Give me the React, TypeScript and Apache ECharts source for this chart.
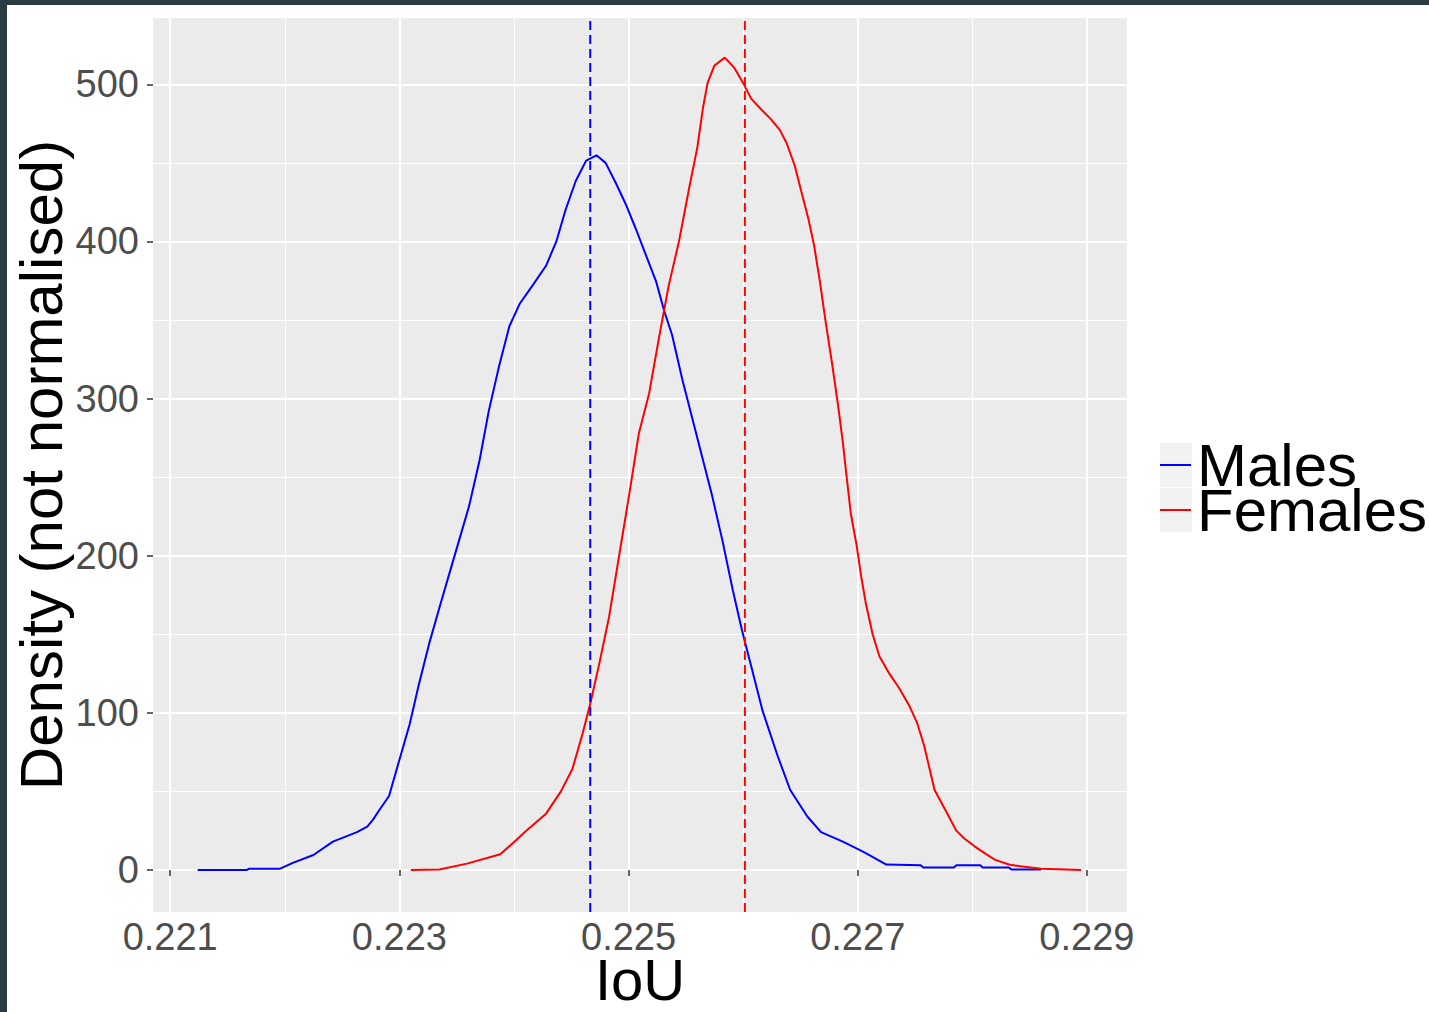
import React, { useEffect, useRef } from "react";
import * as echarts from "echarts";

// ---- data ----
const maleIoU = [
  0.22124, 0.22167, 0.22169, 0.22196, 0.22207, 0.22225, 0.22242, 0.22263, 0.22272, 0.22277,
  0.22283, 0.22291, 0.223, 0.22309, 0.22317, 0.22326, 0.22335, 0.22344, 0.22352, 0.22361,
  0.2237, 0.22378, 0.22387, 0.22396, 0.22405, 0.22416, 0.22428, 0.22437, 0.22445, 0.22454,
  0.22463, 0.22472, 0.2248, 0.22489, 0.22498, 0.22506, 0.22515, 0.22524, 0.22531, 0.22538,
  0.22547, 0.22556, 0.22565, 0.22573, 0.22582, 0.22591, 0.22599, 0.22608, 0.22617, 0.2263,
  0.22641, 0.22656, 0.22668, 0.22687, 0.22705, 0.22725, 0.22755, 0.22757, 0.22784, 0.22786,
  0.22807, 0.22809, 0.22832, 0.22834, 0.2286,
];
const maleDensity = [
  0, 0, 0.8, 0.8, 4.5, 9.5, 18, 24, 27.5, 32,
  38.6, 47, 70, 92.7, 118, 144, 167, 189.5, 209.4, 232,
  260.7, 292, 320.5, 346, 360.3, 371.7, 384.5, 400, 420, 438.6,
  451.4, 454.8, 450, 437, 423, 408.7, 391.6, 374.6, 356, 340.4,
  312, 286.3, 260.7, 237.9, 209.4, 178, 152.5, 126.9, 101.2, 72.8,
  51, 34, 24, 18, 11.4, 3.4, 3, 1.6, 1.6, 2.9,
  2.9, 1.6, 1.6, 0.3, 0.3,
];
const femaleIoU = [
  0.2231, 0.22335, 0.22359, 0.22388, 0.22399, 0.2241, 0.22428, 0.22441, 0.22451, 0.2246,
  0.22467, 0.22474, 0.22483, 0.22492, 0.22501, 0.22509, 0.22518, 0.22527, 0.22535, 0.22544,
  0.22553, 0.2256, 0.22565, 0.22569, 0.22575, 0.22584, 0.22592, 0.226, 0.22607, 0.22616,
  0.22624, 0.22632, 0.22638, 0.22645, 0.22651, 0.22657, 0.22662, 0.22667, 0.22672, 0.22678,
  0.22683, 0.22687, 0.2269, 0.22694, 0.22699, 0.22703, 0.22707, 0.22713, 0.22719, 0.22728,
  0.22736, 0.22745, 0.22752, 0.22758, 0.22767, 0.22778, 0.22786, 0.22793, 0.22802, 0.22812,
  0.2282, 0.22832, 0.22842, 0.2286, 0.22895,
];
const femaleDensity = [
  0, 0.3, 4, 10, 17, 24.4, 35.8, 50, 64.2, 87,
  107, 129.7, 161, 200.9, 240.7, 277.8, 303.4, 340.4, 371.7, 400,
  434.3, 459.7, 485.2, 500.9, 512, 517, 510.8, 500.9, 490.9, 483.8,
  478, 471, 462.5, 448.3, 431.2, 414.2, 397.2, 374.4, 348.9, 320.4,
  294.9, 272.2, 252.3, 226.7, 206.8, 186.9, 169.9, 150, 135.8, 124.4,
  115.9, 104.5, 93.2, 79, 51, 36, 25, 20, 15, 10,
  6.4, 3.4, 2.3, 0.7, 0,
];
const meanIoU = [0.224666, 0.226015];
const seriesNames = ["Males", "Females"];
const xMajorTicks = [0.221, 0.223, 0.225, 0.227, 0.229];
const xMinorTicks = [0.222, 0.224, 0.226, 0.228];
const yMajorTicks = [0, 100, 200, 300, 400, 500];
const yMinorTicks = [50, 150, 250, 350, 450];

const FONT = "'Liberation Sans', Arial, sans-serif";
const COLORS = ["#0000FF", "#FF0000"];

function zip(xs: number[], ys: number[]) {
  return xs.map((x, i) => [x, ys[i]]);
}

export default function App() {
  const ref = useRef<HTMLDivElement>(null);

  useEffect(() => {
    document.body.style.margin = "0";
    const chart = echarts.init(ref.current!, null, { renderer: "svg" });

    const xMin = 0.22085;
    const xMax = 0.22935;
    const yMin = -26.8;
    const yMax = 542.2;

    const hiddenAxisParts = {
      axisLine: { show: false },
      axisLabel: { show: false },
    };

    const densitySeries = [0, 1].map((i) => ({
      name: seriesNames[i],
      type: "line",
      xAxisIndex: 0,
      yAxisIndex: 0,
      data: i === 0 ? zip(maleIoU, maleDensity) : zip(femaleIoU, femaleDensity),
      showSymbol: false,
      symbol: "none",
      color: COLORS[i],
      lineStyle: { color: COLORS[i], width: 2 },
      z: 3,
    }));

    const meanSeries = [0, 1].map((i) => ({
      name: seriesNames[i] + " mean",
      type: "line",
      xAxisIndex: 0,
      yAxisIndex: 0,
      data: [
        [meanIoU[i], yMin],
        [meanIoU[i], yMax],
      ],
      showSymbol: false,
      symbol: "none",
      color: COLORS[i],
      lineStyle: { color: COLORS[i], width: 2, type: [9, 5] },
      silent: true,
      z: 4,
    }));

    const option: any = {
      animation: false,
      backgroundColor: "#FFFFFF",
      textStyle: { fontFamily: FONT },
      grid: {
        left: 153,
        top: 18,
        width: 974,
        height: 894,
        show: true,
        backgroundColor: "#EBEBEB",
        borderWidth: 0,
        containLabel: false,
        outerBoundsMode: "none",
      },
      xAxis: [
        {
          type: "value",
          min: xMin,
          max: xMax,
          position: "bottom",
          axisLine: { show: false },
          axisTick: {
            show: true,
            length: 6,
            customValues: xMajorTicks,
            lineStyle: { color: "#333333", width: 1.5 },
          },
          axisLabel: {
            show: true,
            customValues: xMajorTicks,
            margin: 10,
            fontSize: 38,
            lineHeight: 30,
            color: "#4D4D4D",
            fontFamily: FONT,
          },
          splitLine: { show: true, lineStyle: { color: "#FFFFFF", width: 2 } },
          name: "IoU",
          nameLocation: "middle",
          nameGap: 45,
          nameMoveOverlap: false,
          nameTextStyle: { fontSize: 58, lineHeight: 44, color: "#000000", fontFamily: FONT },
        },
        {
          type: "value",
          min: xMin,
          max: xMax,
          position: "top",
          ...hiddenAxisParts,
          axisTick: { show: false, customValues: xMinorTicks },
          splitLine: { show: true, lineStyle: { color: "#FFFFFF", width: 1 } },
        },
      ],
      yAxis: [
        {
          type: "value",
          min: yMin,
          max: yMax,
          position: "left",
          axisLine: { show: false },
          axisTick: {
            show: true,
            length: 6,
            customValues: yMajorTicks,
            lineStyle: { color: "#333333", width: 1.5 },
          },
          axisLabel: {
            show: true,
            customValues: yMajorTicks,
            margin: 14,
            fontSize: 38,
            color: "#4D4D4D",
            fontFamily: FONT,
          },
          splitLine: { show: true, lineStyle: { color: "#FFFFFF", width: 2 } },
          name: "Density (not normalised)",
          nameLocation: "middle",
          nameGap: 82,
          nameMoveOverlap: false,
          nameTextStyle: { fontSize: 60, color: "#000000", fontFamily: FONT },
        },
        {
          type: "value",
          min: yMin,
          max: yMax,
          position: "right",
          ...hiddenAxisParts,
          axisTick: { show: false, customValues: yMinorTicks },
          splitLine: { show: true, lineStyle: { color: "#FFFFFF", width: 1 } },
        },
      ],
      legend: {
        orient: "vertical",
        left: 1160,
        top: 435,
        padding: 0,
        itemGap: -15,
        itemWidth: 31,
        itemHeight: 2,
        icon: "rect",
        data: seriesNames,
        textStyle: { fontSize: 60, color: "#000000", lineHeight: 44, fontFamily: FONT, padding: [0, 0, 0, 1] },
      },
      graphic: [
        { type: "rect", shape: { x: 1160, y: 443, width: 32, height: 44 }, style: { fill: "#F2F2F2" }, z: 0 },
        { type: "rect", shape: { x: 1160, y: 488, width: 32, height: 44 }, style: { fill: "#F2F2F2" }, z: 0 },
        { type: "rect", shape: { x: 0, y: 0, width: 1429, height: 5 }, style: { fill: "#2B3B44" }, z: 100 },
        { type: "rect", shape: { x: 0, y: 0, width: 7, height: 1012 }, style: { fill: "#2B3B44" }, z: 100 },
      ],
      series: [...densitySeries, ...meanSeries],
    };

    chart.setOption(option);
    return () => chart.dispose();
  }, []);

  return <div ref={ref} style={{ width: 1429, height: 1012, background: "#FFFFFF" }} />;
}
